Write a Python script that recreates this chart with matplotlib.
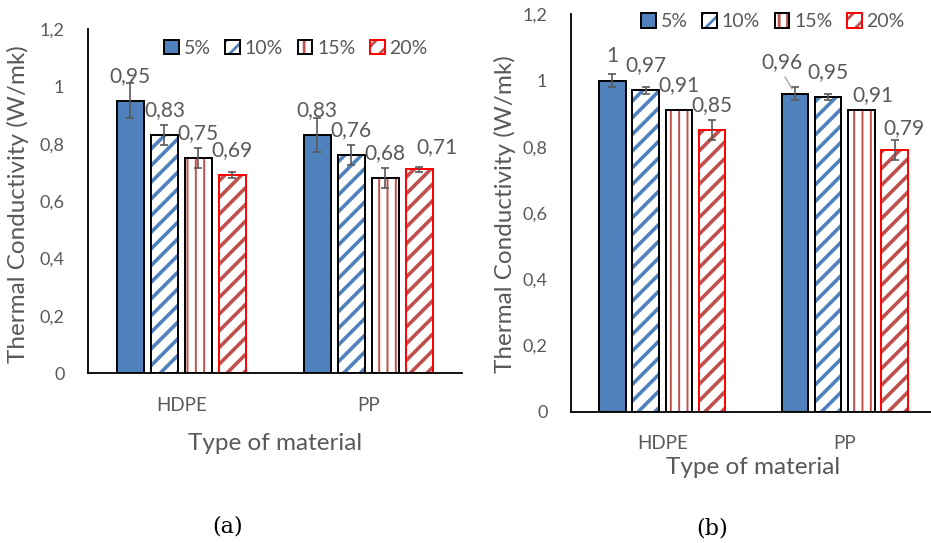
import matplotlib
matplotlib.use("Agg")
import matplotlib.pyplot as plt
import numpy as np
from matplotlib.patches import Patch
from matplotlib.legend_handler import HandlerTuple
from matplotlib.ticker import FuncFormatter

plt.rcParams['font.family'] = ['Lato', 'DejaVu Sans']
plt.rcParams['hatch.linewidth'] = 2.0

W, H = 931, 543
GREY = '#595959'

materials = ['HDPE', 'PP']
fillers = ['5%', '10%', '15%', '20%']

# panel (a): thermal conductivity (W/mK) per filler content
a_5 = [0.95, 0.83]
a_10 = [0.83, 0.76]
a_15 = [0.75, 0.68]
a_20 = [0.69, 0.71]
a_err_5 = [0.06, 0.06]
a_err_10 = [0.035, 0.035]
a_err_15 = [0.035, 0.035]
a_err_20 = [0.01, 0.01]

# panel (b)
b_5 = [1.00, 0.96]
b_10 = [0.97, 0.95]
b_15 = [0.91, 0.91]
b_20 = [0.85, 0.79]
b_err_5 = [0.02, 0.02]
b_err_10 = [0.01, 0.01]
b_err_15 = [0.0, 0.0]
b_err_20 = [0.03, 0.03]

# face, hatch, hatch colour, outline
STYLES = [
    ('#4F81BD', None, None, 'black'),
    ('white', '//', '#4F81BD', 'black'),
    ('white', '||', '#C0504D', 'black'),
    ('white', '//', '#C0504D', '#FF0000'),
]
HATCH_LW = {'//': 2.6, '||': 1.4}
PITCH = 0.182
WIDTH = 0.145


def comma(v, _=None):
    return f'{v:g}'.replace('.', ',')


def hatched_bar(ax, pos, vals, color, hatch):
    # hatch width is a global rc setting, so scope it to these bars
    lw = HATCH_LW[hatch]
    with plt.rc_context({'hatch.linewidth': lw}):
        bars = ax.bar(pos, vals, WIDTH, color='white', edgecolor=color,
                      hatch=hatch, linewidth=0)
    for p in bars:
        orig = p.draw

        def draw(renderer, orig=orig):
            with plt.rc_context({'hatch.linewidth': lw}):
                orig(renderer)
        p.draw = draw
    return bars


def draw_panel(ax, values, errors, nudges):
    x = np.arange(len(materials))
    for i, (vals, errs, (face, hatch, hcol, edge)) in enumerate(zip(values, errors, STYLES)):
        pos = x + (i - 1.5) * PITCH
        if hatch:
            hatched_bar(ax, pos, vals, hcol, hatch)
            ax.bar(pos, vals, WIDTH, facecolor='none', edgecolor=edge, linewidth=1.4)
        else:
            ax.bar(pos, vals, WIDTH, color=face, edgecolor=edge, linewidth=1.4)
        for p, v, e in zip(pos, vals, errs):
            if e > 0:
                ax.errorbar(p, v, yerr=e, fmt='none', ecolor=GREY,
                            elinewidth=1.2, capsize=3.2, capthick=1.2)
        for j, (p, v) in enumerate(zip(pos, vals)):
            dx, dy, lead = nudges.get((i, j), (0, 25, False))
            kw = {}
            if lead:
                kw['arrowprops'] = dict(arrowstyle='-', color='#A6A6A6', lw=1,
                                        shrinkA=2, shrinkB=4, relpos=(0.5, 0))
            ax.annotate(comma(v), xy=(p, v), xytext=(dx * 0.72, dy * 0.72),
                        textcoords='offset points', ha='center', va='center',
                        fontsize=15, color=GREY, **kw)

    ax.set_xlim(-0.5, 1.5)
    ax.set_ylim(0, 1.2)
    ax.set_yticks(np.arange(0, 1.21, 0.2))
    ax.yaxis.set_major_formatter(FuncFormatter(comma))
    ax.set_xticks(x, materials)
    ax.tick_params(axis='y', length=0, labelsize=13, labelcolor=GREY, pad=17)
    ax.tick_params(axis='x', length=0, labelsize=13.5, labelcolor=GREY, pad=17)
    for s in ('top', 'right'):
        ax.spines[s].set_visible(False)
    for s in ('left', 'bottom'):
        ax.spines[s].set_linewidth(1.3)
        ax.spines[s].set_color('black')


def legend_handles():
    handles = []
    for face, hatch, hcol, edge in STYLES:
        if hatch:
            handles.append((Patch(facecolor='white', edgecolor=hcol, hatch=hatch, linewidth=0),
                            Patch(facecolor='none', edgecolor=edge, linewidth=1.4)))
        else:
            handles.append(Patch(facecolor=face, edgecolor=edge, linewidth=1.4))
    return handles


def fx(px):
    return px / W


def fy(py):
    return 1 - py / H


fig = plt.figure(figsize=(W / 100, H / 100), dpi=100)

ax_a = fig.add_axes([fx(88), fy(373), fx(461.7 - 88), (373 - 29) / H])
draw_panel(ax_a,
           [a_5, a_10, a_15, a_20],
           [a_err_5, a_err_10, a_err_15, a_err_20],
           {(3, 1): (18, 22, False)})

ax_b = fig.add_axes([fx(571), fy(411.5), fx(365), (411.5 - 14.3) / H])
draw_panel(ax_b,
           [b_5, b_10, b_15, b_20],
           [b_err_5, b_err_10, b_err_15, b_err_20],
           {(0, 1): (-13, 32, True), (2, 1): (11.5, 15.5, False), (3, 1): (9.5, 22, False)})

for cx, cy in [(296, 48), (773, 21.7)]:
    fig.legend(legend_handles(), fillers, loc='center',
               bbox_to_anchor=(fx(cx), fy(cy)), ncol=4, frameon=False,
               fontsize=14, labelcolor=GREY, handlelength=0.75, handleheight=0.75,
               handletextpad=0.25, columnspacing=0.75, borderpad=0, borderaxespad=0,
               handler_map={tuple: HandlerTuple(ndivide=1, pad=0)})

ylabel = 'Thermal Conductivity (W/mk)'
fig.text(fx(18), fy(204), ylabel, rotation=90, ha='center', va='center',
         fontsize=17.5, color=GREY)
fig.text(fx(505), fy(214), ylabel, rotation=90, ha='center', va='center',
         fontsize=17.5, color=GREY)

fig.text(fx(274.7), fy(443), 'Type of material', ha='center', va='center',
         fontsize=17.5, color=GREY)
fig.text(fx(753.5), fy(467), 'Type of material', ha='center', va='center',
         fontsize=17.5, color=GREY)

fig.text(fx(228), fy(527), '(a)', ha='center', va='center', fontsize=16,
         family='DejaVu Serif', color='black')
fig.text(fx(712), fy(528), '(b)', ha='center', va='center', fontsize=16,
         family='DejaVu Serif', color='black')

fig.savefig('out.png', dpi=100, facecolor='white')
